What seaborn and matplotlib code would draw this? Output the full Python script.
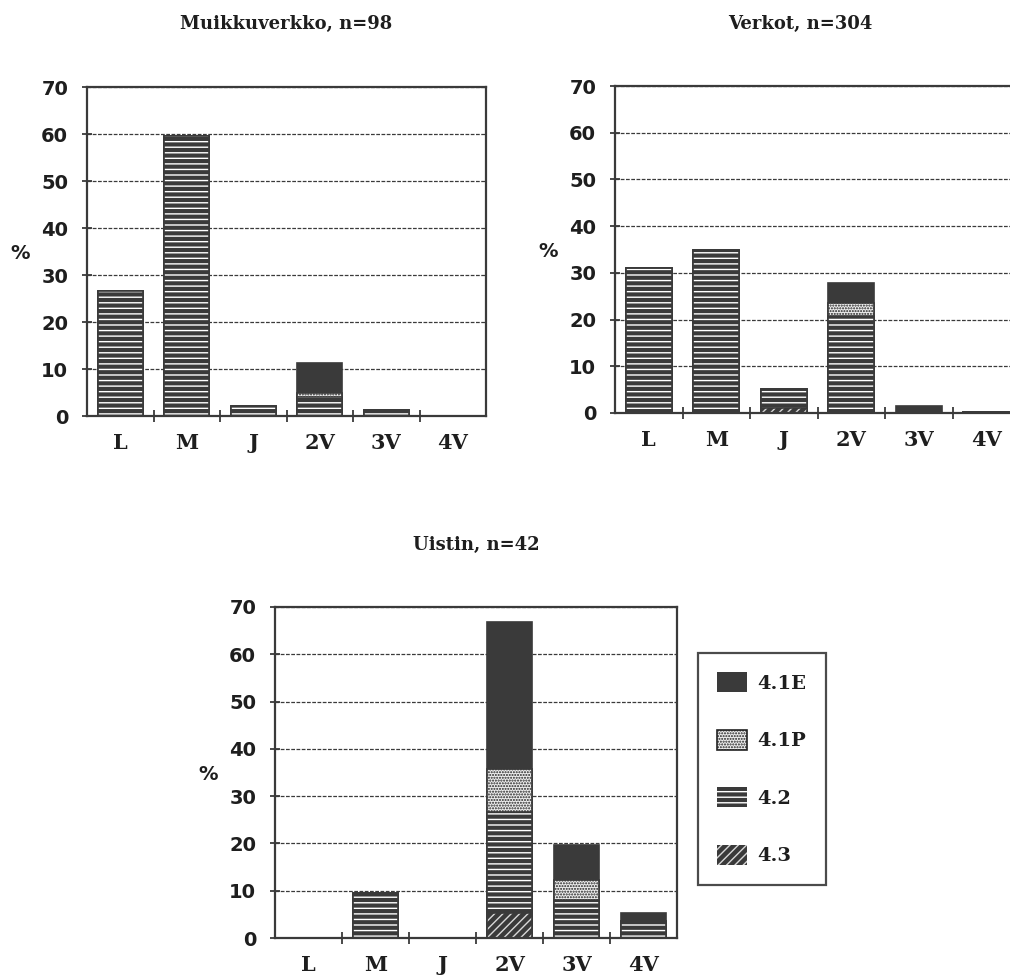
import numpy as np
import pandas as pd
import matplotlib
matplotlib.use("Agg")
import matplotlib.pyplot as plt
import matplotlib.patches as mpatches
from matplotlib.ticker import FixedLocator
import seaborn as sns

# Categories on the x axis and the four stacked classes
CATEGORIES = ["L", "M", "J", "2V", "3V", "4V"]
CLASSES = ["4.1E", "4.1P", "4.2", "4.3"]

# Muikkuverkko, n=98 (percent)
muikku_41E = [0, 0, 0, 6.5, 0, 0]
muikku_41P = [0, 0, 0, 0.8, 0, 0]
muikku_42 = [26.5, 59.5, 2.2, 4.0, 1.2, 0]
muikku_43 = [0, 0, 0, 0, 0, 0]

# Verkot, n=304 (percent)
verkot_41E = [0, 0, 0, 4.3, 1.4, 0]
verkot_41P = [0, 0, 0, 2.8, 0, 0]
verkot_42 = [31, 35, 4.1, 20.7, 0, 0.3]
verkot_43 = [0, 0, 1.0, 0, 0, 0]

# Uistin, n=42 (percent)
uistin_41E = [0, 0, 0, 31.0, 7.4, 1.8]
uistin_41P = [0, 0, 0, 9.2, 4.2, 0]
uistin_42 = [0, 9.5, 0, 21.4, 8.0, 3.5]
uistin_43 = [0, 0, 0, 5.2, 0, 0]

TITLES = ["Muikkuverkko, n=98", "Verkot, n=304", "Uistin, n=42"]
Y_TICKS = [0, 10, 20, 30, 40, 50, 60, 70]

DARK = "#3a3a3a"
INK = "#1e1e1e"

STYLE = {
    "4.1E": dict(face=DARK, hatchcolor=DARK, hatch=None),
    "4.1P": dict(face="#eeeeee", hatchcolor="#222222", hatch="......"),
    "4.2": dict(face=DARK, hatchcolor="white", hatch="---"),
    "4.3": dict(face=DARK, hatchcolor="#d8d8d8", hatch="////"),
}

sns.set_theme(style="white")
plt.rcParams["font.family"] = ["DejaVu Serif"]
plt.rcParams["hatch.linewidth"] = 1.0

SERIF = "DejaVu Serif"
SANS = "DejaVu Sans"

W, H = 1010, 977
fig = plt.figure(figsize=(W / 100, H / 100), dpi=100)
fig.patch.set_facecolor("white")


def px_axes(left, top, right, bottom):
    return fig.add_axes([left / W, 1 - bottom / H, (right - left) / W, (bottom - top) / H])


def draw_stack(ax, data):
    bottom_up = ["4.3", "4.2", "4.1P", "4.1E"]
    cum = np.cumsum([data[c] for c in bottom_up], axis=0)
    # tallest layer first; each lower layer paints over the one above
    for i in reversed(range(len(bottom_up))):
        cls = bottom_up[i]
        st = STYLE[cls]
        df = pd.DataFrame({"cat": CATEGORIES, "val": cum[i]})
        n0 = len(ax.patches)
        sns.barplot(data=df, x="cat", y="val", order=CATEGORIES, ax=ax,
                    errorbar=None, width=0.68, color=st["face"], saturation=1)
        for p in ax.patches[n0:]:
            p.set_facecolor(st["face"])
            p.set_edgecolor(st["hatchcolor"])
            p.set_hatch(st["hatch"])
            p.set_linewidth(0)
        n1 = len(ax.patches)
        sns.barplot(data=df, x="cat", y="val", order=CATEGORIES, ax=ax,
                    errorbar=None, width=0.68, color=DARK, saturation=1)
        for p in ax.patches[n1:]:
            p.set_facecolor("none")
            p.set_edgecolor(DARK)
            p.set_hatch(None)
            p.set_linewidth(1.2)


def style_axes(ax, right_spine=True):
    ax.set_xlim(-0.5, 5.5)
    ax.set_ylim(0, 70)
    ax.set_xlabel("")
    ax.yaxis.set_major_locator(FixedLocator(Y_TICKS))
    ax.yaxis.grid(True, linestyle=(0, (3, 1.2)), color=DARK, linewidth=0.9)
    ax.xaxis.grid(False)
    ax.set_axisbelow(True)
    for name, sp in ax.spines.items():
        sp.set_visible(True)
        sp.set_color(DARK)
        sp.set_linewidth(1.6)
    if not right_spine:
        ax.spines["right"].set_visible(False)
    ax.xaxis.set_minor_locator(FixedLocator([0.5, 1.5, 2.5, 3.5, 4.5]))
    ax.tick_params(axis="x", which="major", length=0, pad=12, labelsize=15,
                   labelcolor=INK)
    ax.tick_params(axis="x", which="minor", length=9, width=1.3,
                   direction="inout", color=DARK, bottom=True)
    ax.tick_params(axis="y", which="major", length=7, width=1.3,
                   direction="inout", color=DARK, pad=10, labelsize=14,
                   labelcolor=INK, left=True)
    for lab in ax.get_xticklabels():
        lab.set_fontfamily(SERIF)
        lab.set_fontweight("bold")
    for lab in ax.get_yticklabels():
        lab.set_fontfamily(SANS)
        lab.set_fontweight("bold")
    ax.set_ylabel("%", rotation=0, fontsize=14, fontweight="bold",
                  fontfamily=SANS, color=INK, ha="center", va="center")
    width_px = ax.get_position().width * W
    ax.yaxis.set_label_coords(-67 / width_px, 0.495)


panels = [
    dict(rect=(87, 87, 486, 416), right=True,
         data={"4.1E": muikku_41E, "4.1P": muikku_41P, "4.2": muikku_42, "4.3": muikku_43}),
    dict(rect=(615, 86, 1020, 413), right=False,
         data={"4.1E": verkot_41E, "4.1P": verkot_41P, "4.2": verkot_42, "4.3": verkot_43}),
    dict(rect=(275, 607, 677, 938), right=True,
         data={"4.1E": uistin_41E, "4.1P": uistin_41P, "4.2": uistin_42, "4.3": uistin_43}),
]

for pnl in panels:
    ax = px_axes(*pnl["rect"])
    ax.set_facecolor("white")
    draw_stack(ax, pnl["data"])
    style_axes(ax, pnl["right"])

# Panel titles
title_pos = [(286, 24), (800, 24), (476, 545)]
for (tx, ty), t in zip(title_pos, TITLES):
    fig.text(tx / W, 1 - ty / H, t, ha="center", va="center", fontsize=13,
             fontweight="bold", fontfamily=SERIF, color=INK)

# Legend for the stacked classes
handles = [mpatches.Patch(facecolor=STYLE[c]["face"], edgecolor=STYLE[c]["hatchcolor"],
                          hatch=STYLE[c]["hatch"], linewidth=0, label=c) for c in CLASSES]
handles[1].set_edgecolor("#222222")
handles[1].set_linewidth(1.2)
leg = fig.legend(handles=handles, loc="upper left",
                 bbox_to_anchor=(698 / W, 1 - 653 / H), borderaxespad=0,
                 frameon=True, fancybox=False, shadow=False,
                 prop=dict(family=SERIF, weight="bold", size=14),
                 handlelength=1.5, handleheight=1.2, handletextpad=0.55,
                 labelspacing=1.9, borderpad=1.0)
leg.get_frame().set_edgecolor(INK)
leg.get_frame().set_linewidth(1.6)
for txt in leg.get_texts():
    txt.set_color(INK)

fig.savefig("out.png", dpi=100, facecolor="white")
